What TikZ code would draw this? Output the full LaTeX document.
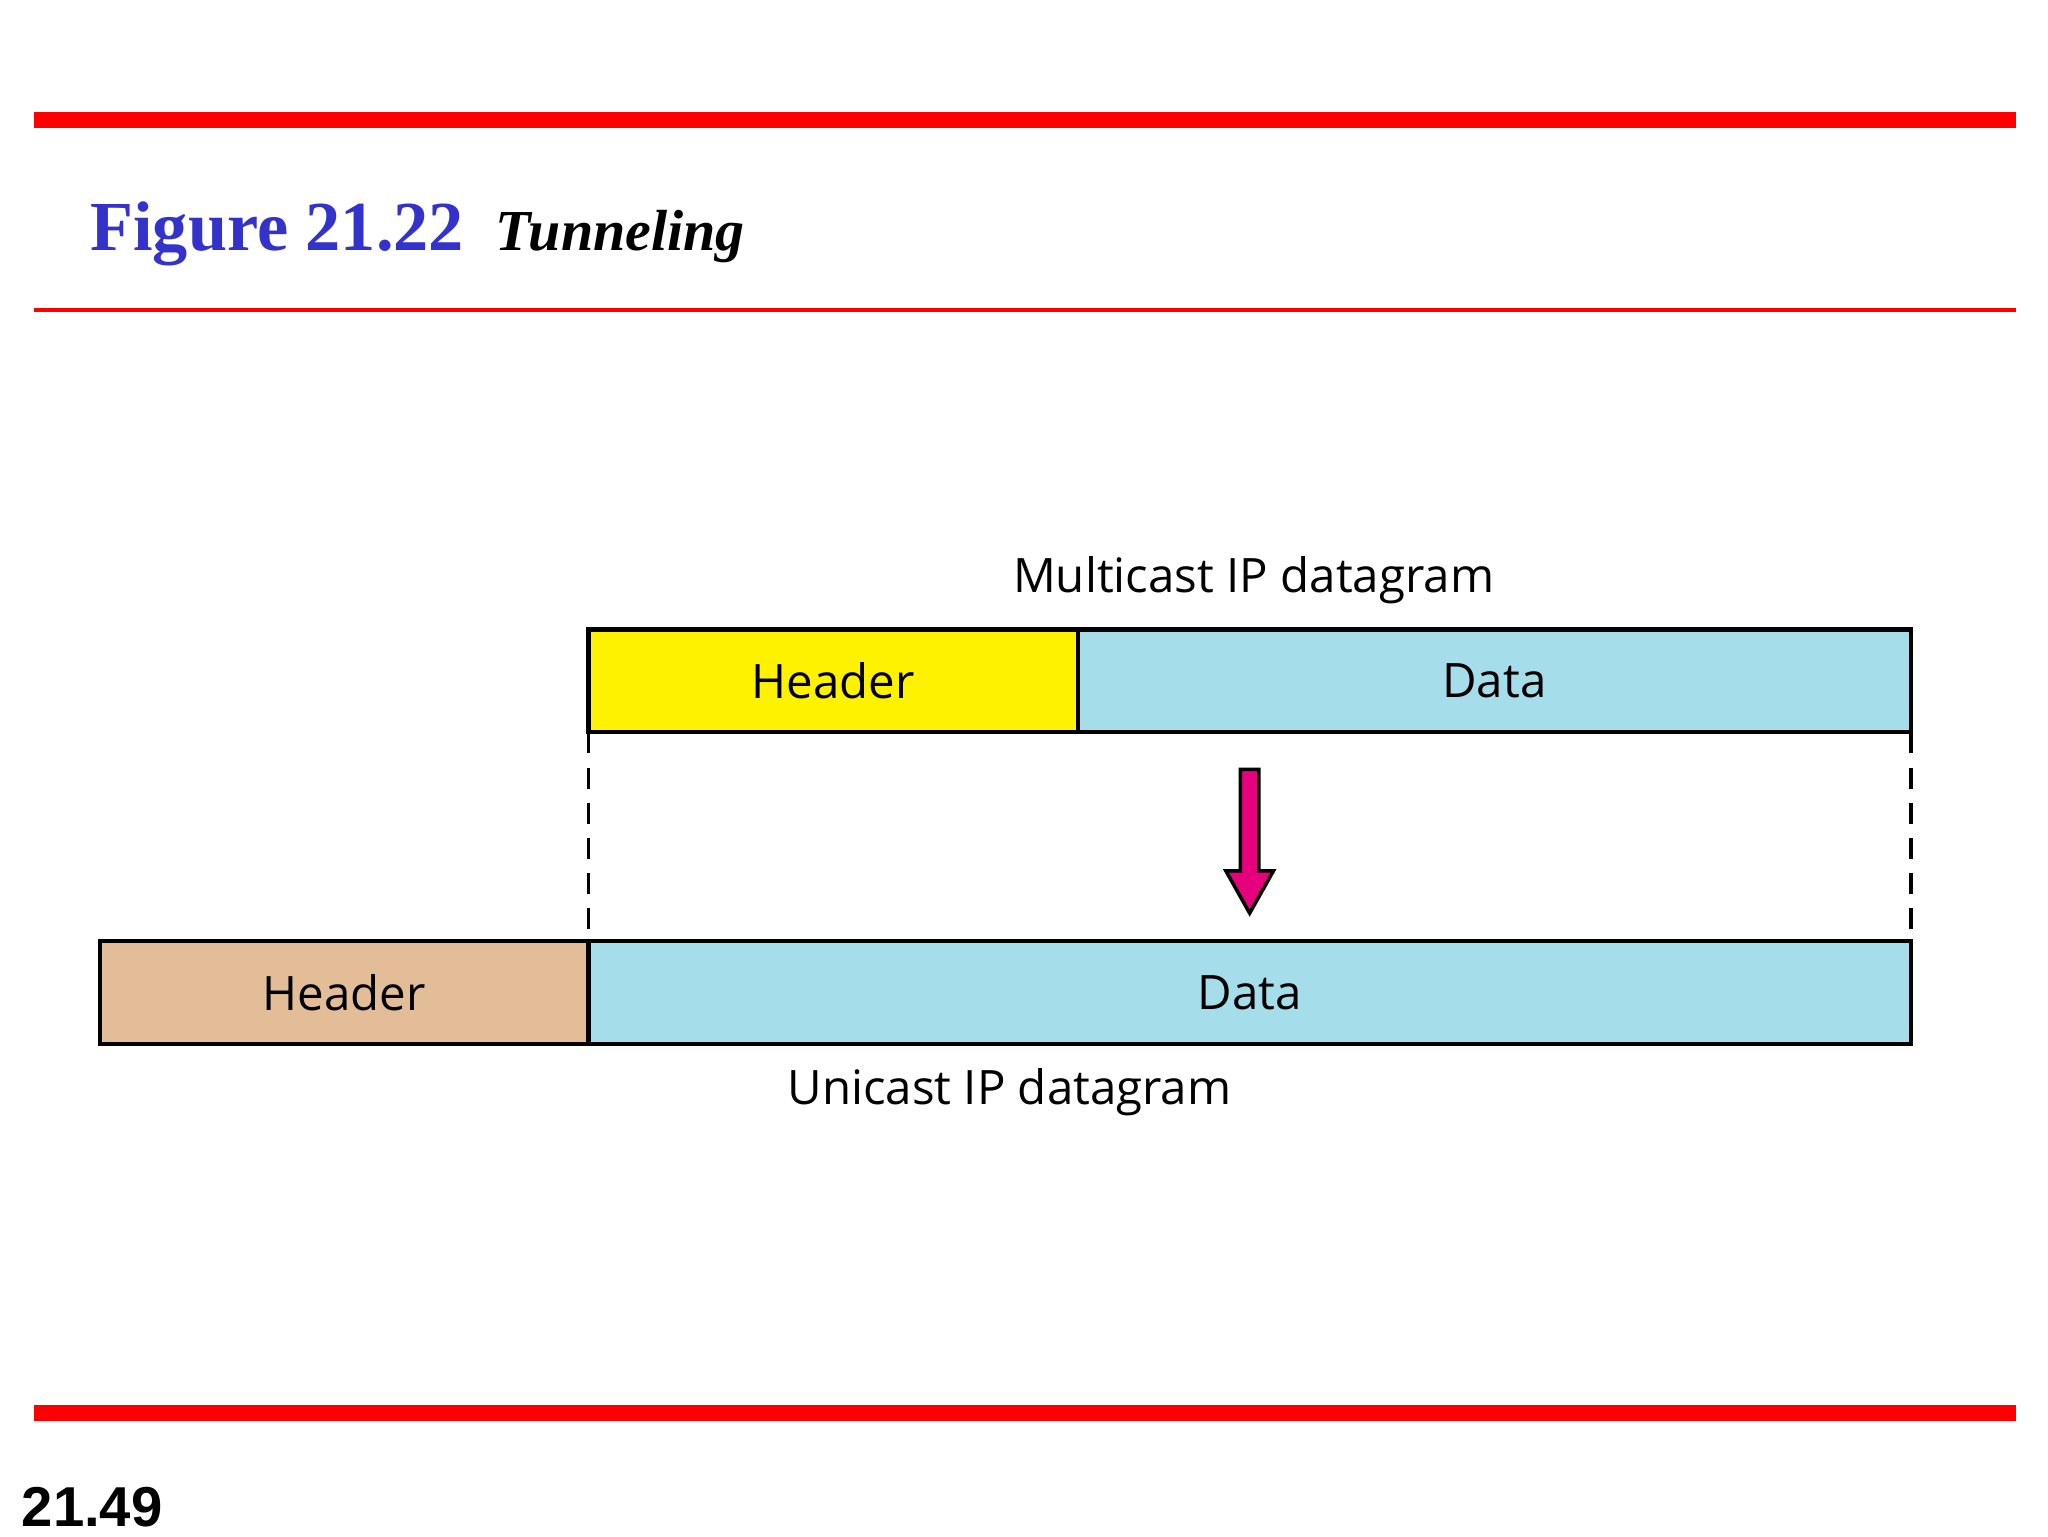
\documentclass[tikz,border=0pt]{standalone}
\usepackage{fontspec}
\setmainfont{Liberation Serif}
\newfontfamily\lab{Open Sans}
\newfontfamily\pnum{Liberation Sans}
\definecolor{tblue}{HTML}{3333CC}
\definecolor{dblue}{HTML}{A6DDEA}
\definecolor{tan}{HTML}{E3BD98}
\definecolor{mag}{HTML}{E6007E}
\begin{document}
\begin{tikzpicture}[x=0.013196cm,y=-0.013196cm,
  box/.style={draw=black,line width=1.2pt,inner sep=0pt,anchor=north west},
  lbl/.style={font=\lab\fontsize{13.5}{16}\selectfont}]
\useasboundingbox (0,0) rectangle (1552,1164);
\fill[red] (26,85) rectangle (1528,97);
\fill[red] (26,233.5) rectangle (1528,236.5);
\fill[red] (26,1065) rectangle (1528,1077);
\node[anchor=base west,inner sep=0,text=tblue,font=\bfseries\fontsize{20}{24}\selectfont] (fig) at (68,190) {Figure 21.22};
\node[anchor=base west,inner sep=0,font=\bfseries\itshape\fontsize{16.5}{20}\selectfont] (tit) at (375,190) {Tunneling};
\node[anchor=base west,inner sep=0,font=\pnum\bfseries\fontsize{16}{20}\selectfont] (pg) at (16,1157) {21.49};
% top datagram
\draw[box,fill=yellow] (446,477) rectangle (817,555);
\draw[box,fill=dblue] (817,477) rectangle (1448,555);
\node[lbl] (h1) at (631.5,516) {Header};
\node[lbl] (d1) at (1132.5,516) {Data};
\node[lbl] (mc) at (950,440) {Multicast IP datagram};
% bottom datagram
\draw[box,fill=tan] (76,713) rectangle (446,791);
\draw[box,fill=dblue] (446,713) rectangle (1448,791);
\node[lbl] (h2) at (261,752) {Header};
\node[lbl] (d2) at (947,752) {Data};
\node[lbl] (uc) at (765,828) {Unicast IP datagram};
% dashed
\coordinate (a1) at (446,555); \coordinate (a2) at (446,713);
\coordinate (b1) at (1448,555); \coordinate (b2) at (1448,713);
\draw[line width=1pt,dash pattern=on 6pt off 4pt] (a1)--(a2) (b1)--(b2);
% arrow
\draw[fill=mag,line width=1pt,line join=miter] (940,583)--(954,583)--(954,660)--(965,660)--(947,692)--(929,660)--(940,660)--cycle;
\end{tikzpicture}
\end{document}
